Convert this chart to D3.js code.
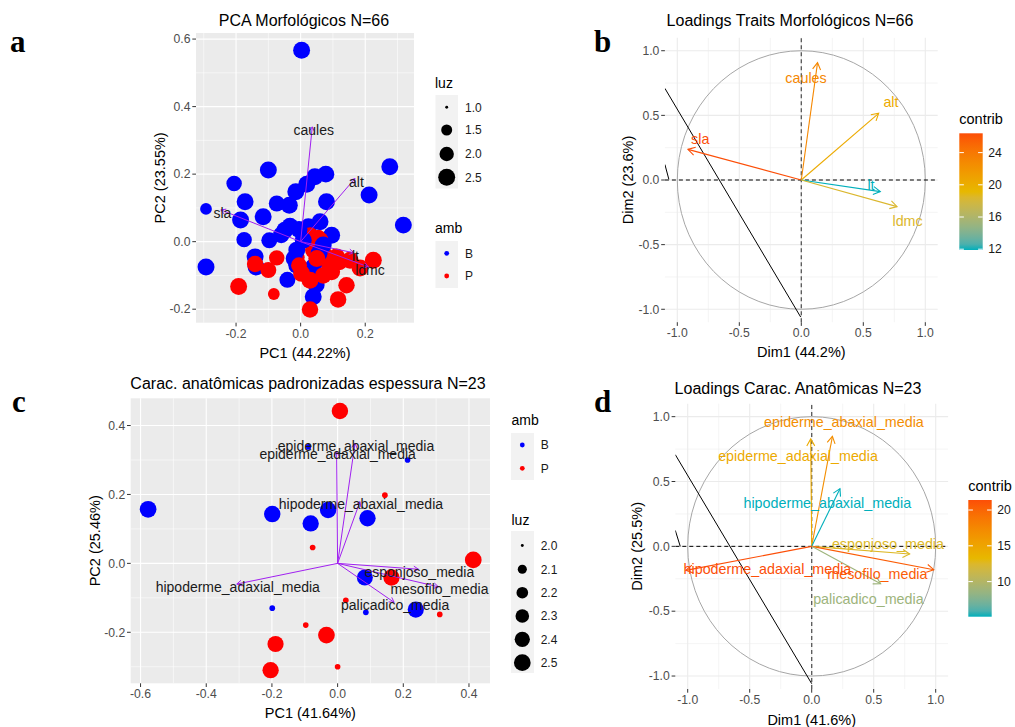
<!DOCTYPE html>
<html><head><meta charset="utf-8">
<script src="https://cdn.jsdelivr.net/npm/d3@7"></script>
<style>body{margin:0;background:#fff} svg{font-family:"Liberation Sans",Arial,sans-serif}</style>
</head><body><svg id="c" width="1015" height="727"></svg>
<script>
// ---------- Panel a: PCA Morfológicos N=66 (scores) ----------
const aX   = [0.003,-0.100,-0.206,0.276,-0.293,-0.172,-0.186,-0.116,-0.074,-0.035,-0.015,0.019,0.044,0.078,0.080,0.212,0.318,-0.175,-0.097,-0.049,-0.033,0.024,0.060,0.096,-0.141,-0.138,-0.293,
  -0.192,-0.083,-0.141,-0.100,-0.074,-0.013,0.055,0.039,0.070,0.111,0.096,0.142,0.116,0.184,0.225,0.153,0.060,0.085,0.120,0.030,
  -0.041,-0.012,-0.012,0.039,0.048,0.039,0.008,0.057,-0.005,0.020,0.070,-0.020,-0.060,
  0.029,0.029,0.003,0.050,-0.005,0.070];
const aY   = [0.567,0.212,0.172,0.222,0.097,0.118,0.064,0.074,0.113,0.108,0.148,0.170,0.192,0.200,0.118,0.138,0.049,0.006,0.004,0.034,0.046,0.044,0.059,0.019,-0.045,-0.075,-0.075,
  -0.133,-0.155,-0.066,-0.084,-0.048,-0.047,0.014,-0.025,-0.035,-0.045,-0.089,-0.129,-0.171,-0.078,-0.055,-0.055,0.004,-0.060,-0.060,0.020,
  -0.113,-0.025,-0.070,-0.075,-0.128,-0.163,0.004,-0.034,0.036,-0.095,-0.010,-0.050,0.020,
  -0.201,-0.114,-0.094,-0.050,-0.070,-0.100];
const aLuz = [2.5,2.5,2.2,2.5,1.6,2.5,2.5,2.5,2.3,2.5,2.5,2.5,2.5,2.5,2.5,2.5,2.5,2.2,2.3,2.5,2.5,2.5,2.5,2.5,2.5,2.5,2.5,
  2.5,1.6,2.4,2.3,2.2,2.4,2.0,2.4,2.5,2.5,2.5,2.4,2.4,2.5,2.5,2.5,2.5,2.5,2.4,2.2,
  2.3,2.5,2.5,2.5,2.5,2.5,2.5,2.5,2.5,2.4,2.5,2.5,2.4,
  2.4,2.5,2.5,2.5,2.3,2.4];
const aAmb = ["B","B","B","B","B","B","B","B","B","B","B","B","B","B","B","B","B","B","B","B","B","B","B","B","B","B","B",
  "P","P","P","P","P","P","P","P","P","P","P","P","P","P","P","P","P","P","P","P",
  "B","B","B","B","B","B","B","B","B","B","B","B","B",
  "P","P","P","P","P","P"];
const aVars = ["caules","alt","sla","lt","ldmc"];
const aVarX = [0.036,0.168,-0.247,0.165,0.210];
const aVarY = [0.340,0.187,0.094,-0.033,-0.075];
const aLuzBreaks = [1.0,1.5,2.0,2.5];

// ---------- Panel b: Loadings Traits Morfológicos N=66 ----------
const bVars = ["caules","alt","sla","lt","ldmc"];
const bX = [0.131,0.624,-0.914,0.637,0.772];
const bY = [0.908,0.516,0.237,-0.090,-0.206];
const bContrib = [23.0,20.3,26.4,11.9,18.4];
const bLabX = [0.038,0.723,-0.815,0.562,0.857];
const bLabY = [0.790,0.606,0.315,-0.041,-0.317];
const bContribBreaks = [12,16,20,24];
const bStray = [[-1.1,0.709],[-0.005,-1.06]];
const bStray2 = [[-1.1,0.12],[-1.068,0.005]];

// ---------- Panel c: Carac. anatômicas N=23 (scores) ----------
const cX   = [-0.577,-0.199,-0.082,-0.029,0.091,0.083,0.238,-0.089,0.213,-0.199,0.086,
  0.007,0.413,0.164,-0.034,-0.189,-0.204,0.144,-0.076,0.025,-0.097,0.000,0.311];
const cY   = [0.157,0.143,0.116,0.155,0.131,-0.041,-0.134,0.338,0.300,-0.130,-0.142,
  0.442,0.010,-0.041,-0.208,-0.234,-0.310,0.198,0.046,-0.107,-0.179,-0.300,-0.148];
const cLuz = [2.5,2.48,2.47,2.48,2.47,2.45,2.46,2.02,2.02,2.02,2.02,
  2.48,2.5,2.47,2.5,2.46,2.47,2.02,2.02,2.02,2.02,2.02,2.02];
const cAmb = ["B","B","B","B","B","B","B","B","B","B","B",
  "P","P","P","P","P","P","P","P","P","P","P","P"];
const cVars = ["epiderme_abaxial_media","epiderme_adaxial_media","hipoderme_abaxial_media","hipoderme_adaxial_media","esponjoso_media","mesofilo_media","palicadico_media"];
const cVarX = [0.053,-0.003,0.068,-0.307,0.246,0.307,0.172];
const cVarY = [0.349,0.324,0.179,-0.060,-0.017,-0.068,-0.113];
const cLuzBreaks = [2.0,2.1,2.2,2.3,2.4,2.5];

// ---------- Panel d: Loadings Carac. Anatômicas N=23 ----------
const dVars = ["epiderme_abaxial_media","epiderme_adaxial_media","hipoderme_abaxial_media","esponjoso_media","mesofilo_media","palicadico_media","hipoderme_adaxial_media"];
const dX = [0.167,-0.008,0.228,0.790,0.985,0.556,-1.015];
const dY = [0.848,0.828,0.445,-0.059,-0.180,-0.288,-0.185];
const dContrib = [17.0,14.5,5.1,12.6,20.6,8.8,21.4];
const dLabX = [0.260,-0.110,0.126,0.615,0.530,0.457,-0.357];
const dLabY = [0.956,0.700,0.335,0.019,-0.213,-0.406,-0.174];
const dContribBreaks = [10,15,20];
const dStray = [[-1.1,0.707],[0.0,-1.059]];
const dStray2 = [[-1.1,0.123],[-1.06,0.0]];

const ambColors = {B:"#0000FF", P:"#FF0000"};
const gradCols = ["#00AFBB","#E7B800","#FC4E07"];
const fmt1 = v => v.toFixed(1);

const svg = d3.select("#c");

function radiusFn(lo, hi){
  const s = d3.scaleLinear().domain([0,1]).range([1,6]);
  return v => 1.45*s(Math.sqrt(Math.max(0,(v-lo)/(hi-lo))));
}

function arrow(g, x0,y0,x1,y1, color, len, w){
  g.append("line").attr("x1",x0).attr("y1",y0).attr("x2",x1).attr("y2",y1)
    .attr("stroke",color).attr("stroke-width",w);
  const ang = Math.atan2(y1-y0, x1-x0), a = Math.PI/6;
  const p1 = [x1 - len*Math.cos(ang-a), y1 - len*Math.sin(ang-a)];
  const p2 = [x1 - len*Math.cos(ang+a), y1 - len*Math.sin(ang+a)];
  g.append("path").attr("d",`M${p1}L${x1},${y1}L${p2}`).attr("fill","none")
    .attr("stroke",color).attr("stroke-width",w);
}

function frame(opt){
  const {x,y,xt,xm,yt,ym,gray} = opt;
  const g = svg.append("g");
  const [x0,x1] = x.range(), [y0,y1] = y.range();
  g.append("rect").attr("x",x0).attr("y",y1).attr("width",x1-x0).attr("height",y0-y1)
    .attr("fill", gray ? "#EBEBEB" : "#FFFFFF");
  const gc = gray ? "#FFFFFF" : "#EBEBEB";
  xm.forEach(v=>g.append("line").attr("x1",x(v)).attr("x2",x(v)).attr("y1",y0).attr("y2",y1).attr("stroke",gc).attr("stroke-width",0.55));
  ym.forEach(v=>g.append("line").attr("y1",y(v)).attr("y2",y(v)).attr("x1",x0).attr("x2",x1).attr("stroke",gc).attr("stroke-width",0.55));
  xt.forEach(v=>g.append("line").attr("x1",x(v)).attr("x2",x(v)).attr("y1",y0).attr("y2",y1).attr("stroke",gc).attr("stroke-width",1.1));
  yt.forEach(v=>g.append("line").attr("y1",y(v)).attr("y2",y(v)).attr("x1",x0).attr("x2",x1).attr("stroke",gc).attr("stroke-width",1.1));
  xt.forEach(v=>{
    g.append("line").attr("x1",x(v)).attr("x2",x(v)).attr("y1",y0).attr("y2",y0+3.7).attr("stroke","#333").attr("stroke-width",1);
    g.append("text").attr("x",x(v)).attr("y",y0+15).attr("text-anchor","middle").attr("font-size",12.2).attr("fill","#4D4D4D").text(fmt1(v));
  });
  yt.forEach(v=>{
    g.append("line").attr("x1",x0-3.7).attr("x2",x0).attr("y1",y(v)).attr("y2",y(v)).attr("stroke","#333").attr("stroke-width",1);
    g.append("text").attr("x",x0-5.5).attr("y",y(v)+4.3).attr("text-anchor","end").attr("font-size",12.2).attr("fill","#4D4D4D").text(fmt1(v));
  });
  svg.append("text").attr("x",opt.titleX).attr("y",opt.titleY).attr("text-anchor","middle").attr("font-size",16).attr("fill","#000").text(opt.title);
  svg.append("text").attr("x",(x0+x1)/2).attr("y",opt.xlabY).attr("text-anchor","middle").attr("font-size",14.5).attr("fill","#000").text(opt.xlab);
  svg.append("text").attr("transform",`translate(${opt.ylabX},${(y0+y1)/2}) rotate(-90)`).attr("text-anchor","middle").attr("font-size",14.5).attr("fill","#000").text(opt.ylab);
  const cid = "clip"+Math.round(x0)+"_"+Math.round(y1);
  svg.append("clipPath").attr("id",cid).append("rect").attr("x",x0).attr("y",y1).attr("width",x1-x0).attr("height",y0-y1);
  return svg.append("g").attr("clip-path",`url(#${cid})`);
}

function panelLetter(t,x,y){
  svg.append("text").attr("x",x).attr("y",y).attr("font-family","'Liberation Serif','DejaVu Serif',serif")
    .attr("font-weight","bold").attr("font-size",31).attr("fill","#000").text(t);
}

// ======== Panel a ========
{
  const x = d3.scaleLinear().domain([-0.324,0.351]).range([196,414]);
  const y = d3.scaleLinear().domain([-0.24,0.618]).range([322.7,33]);
  const g = frame({x,y,gray:true,xt:[-0.2,0,0.2],xm:[-0.3,-0.1,0.1,0.3],yt:[-0.2,0,0.2,0.4,0.6],ym:[-0.1,0.1,0.3,0.5],
    title:"PCA Morfológicos N=66",titleX:304,titleY:26,xlab:"PC1 (44.22%)",xlabY:358,ylab:"PC2 (23.55%)",ylabX:165});
  const r = radiusFn(1.0, 2.6);
  aX.forEach((v,i)=>g.append("circle").attr("cx",x(v)).attr("cy",y(aY[i])).attr("r",r(aLuz[i])).attr("fill",ambColors[aAmb[i]]));
  aVars.forEach((n,i)=>arrow(g,x(0),y(0),x(aVarX[i]),y(aVarY[i]),"#A020F0",5.5,1));
  aVars.forEach((n,i)=>g.append("text").attr("x",x(aVarX[i])+1.5).attr("y",y(aVarY[i])+8).attr("text-anchor","middle").attr("font-size",14).attr("fill","#1a1a1a").text(n));
  svg.append("text").attr("x",435).attr("y",88).attr("font-size",14).text("luz");
  svg.append("rect").attr("x",435.5).attr("y",95).attr("width",22.5).attr("height",93.5).attr("fill","#F2F2F2");
  const ly = [107.3,130,154,177.3];
  aLuzBreaks.forEach((v,i)=>{
    svg.append("circle").attr("cx",446.7).attr("cy",ly[i]).attr("r",r(v)).attr("fill","#000");
    svg.append("text").attr("x",465).attr("y",ly[i]+4.3).attr("font-size",12).attr("fill","#1a1a1a").text(fmt1(v));
  });
  svg.append("text").attr("x",435).attr("y",233).attr("font-size",14).text("amb");
  svg.append("rect").attr("x",435.5).attr("y",241).attr("width",22.5).attr("height",47).attr("fill","#F2F2F2");
  ["B","P"].forEach((k,i)=>{
    const yy = [253.3,276][i];
    svg.append("circle").attr("cx",446.7).attr("cy",yy).attr("r",2.4).attr("fill",ambColors[k]);
    svg.append("text").attr("x",465).attr("y",yy+4.3).attr("font-size",12).attr("fill","#1a1a1a").text(k);
  });
  panelLetter("a",10,52);
}

function loadings(o){
  const x = d3.scaleLinear().domain([-1.1,1.1]).range(o.xr);
  const y = d3.scaleLinear().domain([-1.1,1.1]).range(o.yr);
  const g = frame({x,y,gray:false,xt:[-1,-0.5,0,0.5,1],xm:[-0.75,-0.25,0.25,0.75],yt:[-1,-0.5,0,0.5,1],ym:[-0.75,-0.25,0.25,0.75],
    title:o.title,titleX:o.titleX,titleY:o.titleY,xlab:o.xlab,xlabY:o.xlabY,ylab:o.ylab,ylabX:o.ylabX});
  const circ = d3.range(0,73).map(k=>[Math.cos(k*2*Math.PI/72),Math.sin(k*2*Math.PI/72)]);
  g.append("path").attr("d",d3.line().x(d=>x(d[0])).y(d=>y(d[1]))(circ)).attr("fill","none").attr("stroke","#A6A6A6").attr("stroke-width",1);
  g.append("line").attr("x1",x(-1.1)).attr("x2",x(1.1)).attr("y1",y(0)).attr("y2",y(0)).attr("stroke","#000").attr("stroke-width",1).attr("stroke-dasharray","4,3");
  g.append("line").attr("x1",x(0)).attr("x2",x(0)).attr("y1",y(-1.1)).attr("y2",y(1.1)).attr("stroke","#555").attr("stroke-width",1.3).attr("stroke-dasharray","4,3");
  [o.stray,o.stray2].forEach(s=>g.append("line").attr("x1",x(s[0][0])).attr("y1",y(s[0][1])).attr("x2",x(s[1][0])).attr("y2",y(s[1][1])).attr("stroke","#000").attr("stroke-width",1));
  const ext = d3.extent(o.contrib);
  const col = d3.scaleLinear().domain([ext[0],(ext[0]+ext[1])/2,ext[1]]).range(gradCols).interpolate(d3.interpolateLab);
  o.vars.forEach((n,i)=>arrow(g,x(0),y(0),x(o.vx[i]),y(o.vy[i]),col(o.contrib[i]),8,1.1));
  o.vars.forEach((n,i)=>g.append("text").attr("x",x(o.lx[i])).attr("y",y(o.ly[i])+5).attr("text-anchor","middle").attr("font-size",14.3).attr("fill",col(o.contrib[i])).text(n));
  const cb = o.cb;
  const gid = "grad"+Math.round(cb.x);
  const lg = svg.append("defs").append("linearGradient").attr("id",gid).attr("x1",0).attr("x2",0).attr("y1",1).attr("y2",0);
  d3.range(0,21).forEach(k=>{const t=k/20; lg.append("stop").attr("offset",t).attr("stop-color",col(ext[0]+t*(ext[1]-ext[0])));});
  svg.append("rect").attr("x",cb.x).attr("y",cb.y0).attr("width",cb.w).attr("height",cb.y1-cb.y0).attr("fill",`url(#${gid})`);
  const cy = d3.scaleLinear().domain(ext).range([cb.y1,cb.y0]);
  o.breaks.forEach(v=>{
    svg.append("line").attr("x1",cb.x).attr("x2",cb.x+4.6).attr("y1",cy(v)).attr("y2",cy(v)).attr("stroke","#fff").attr("stroke-width",1);
    svg.append("line").attr("x1",cb.x+cb.w-4.6).attr("x2",cb.x+cb.w).attr("y1",cy(v)).attr("y2",cy(v)).attr("stroke","#fff").attr("stroke-width",1);
    svg.append("text").attr("x",cb.x+cb.w+5.5).attr("y",cy(v)+4.3).attr("font-size",12.2).attr("fill","#1a1a1a").text(v);
  });
  svg.append("text").attr("x",cb.x).attr("y",cb.y0-9).attr("font-size",14.5).text("contrib");
}

loadings({xr:[664.9,937.7],yr:[322.2,37.8],title:"Loadings Traits Morfológicos N=66",titleX:790,titleY:26,
  xlab:"Dim1 (44.2%)",xlabY:357,ylab:"Dim2 (23.6%)",ylabX:633,
  vars:bVars,vx:bX,vy:bY,contrib:bContrib,lx:bLabX,ly:bLabY,stray:bStray,stray2:bStray2,breaks:bContribBreaks,
  cb:{x:959.3,w:23.4,y0:133.3,y1:250}});
panelLetter("b",594,52);

{
  const x = d3.scaleLinear().domain([-0.63,0.464]).range([130.7,490]);
  const y = d3.scaleLinear().domain([-0.348,0.479]).range([683.3,398.3]);
  const g = frame({x,y,gray:true,xt:[-0.6,-0.4,-0.2,0,0.2,0.4],xm:[-0.5,-0.3,-0.1,0.1,0.3],yt:[-0.2,0,0.2,0.4],ym:[-0.3,-0.1,0.1,0.3],
    title:"Carac. anatômicas padronizadas espessura N=23",titleX:308,titleY:389,xlab:"PC1 (41.64%)",xlabY:718,ylab:"PC2 (25.46%)",ylabX:100});
  const r = radiusFn(2.0, 2.55);
  cX.forEach((v,i)=>g.append("circle").attr("cx",x(v)).attr("cy",y(cY[i])).attr("r",r(cLuz[i])).attr("fill",ambColors[cAmb[i]]));
  cVars.forEach((n,i)=>arrow(g,x(0),y(0),x(cVarX[i]),y(cVarY[i]),"#A020F0",5.5,1));
  cVars.forEach((n,i)=>g.append("text").attr("x",x(cVarX[i])+1).attr("y",y(cVarY[i])+7.5).attr("text-anchor","middle").attr("font-size",14).attr("fill","#1a1a1a").text(n));
  svg.append("text").attr("x",511.5).attr("y",425).attr("font-size",14).text("amb");
  svg.append("rect").attr("x",511).attr("y",433).attr("width",23).attr("height",47).attr("fill","#F2F2F2");
  ["B","P"].forEach((k,i)=>{
    const yy = [445,468.3][i];
    svg.append("circle").attr("cx",522.3).attr("cy",yy).attr("r",2.4).attr("fill",ambColors[k]);
    svg.append("text").attr("x",540.7).attr("y",yy+4.3).attr("font-size",12).attr("fill","#1a1a1a").text(k);
  });
  svg.append("text").attr("x",511.5).attr("y",525).attr("font-size",14).text("luz");
  svg.append("rect").attr("x",511).attr("y",531).attr("width",23).attr("height",142).attr("fill","#F2F2F2");
  const ly = [545.5,569.3,592.7,616,639.3,662.7];
  cLuzBreaks.forEach((v,i)=>{
    svg.append("circle").attr("cx",522.3).attr("cy",ly[i]).attr("r",r(v)).attr("fill","#000");
    svg.append("text").attr("x",540.7).attr("y",ly[i]+4.3).attr("font-size",12).attr("fill","#1a1a1a").text(fmt1(v));
  });
  panelLetter("c",12,412);
}

loadings({xr:[675.3,948.1],yr:[689,403.7],title:"Loadings Carac. Anatômicas N=23",titleX:798,titleY:394,
  xlab:"Dim1 (41.6%)",xlabY:725,ylab:"Dim2 (25.5%)",ylabX:642,
  vars:dVars,vx:dX,vy:dY,contrib:dContrib,lx:dLabX,ly:dLabY,stray:dStray,stray2:dStray2,breaks:dContribBreaks,
  cb:{x:968.3,w:23.4,y0:500,y1:616.7}});
panelLetter("d",594,412);
</script></body></html>
